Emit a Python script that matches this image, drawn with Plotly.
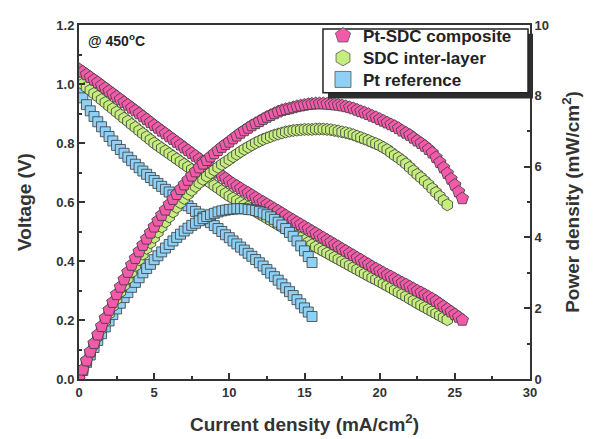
import plotly.graph_objects as go

# ---------------- data ----------------
series_names = ["Pt-SDC composite", "SDC inter-layer", "Pt reference"]

current_pt_sdc = [i * 0.25 for i in range(103)]          # 0 .. 25.5 mA/cm2
voltage_pt_sdc = [1.050, 1.041, 1.032, 1.023, 1.014, 1.005, 0.995, 0.986, 0.976, 0.967,
                  0.957, 0.948, 0.938, 0.929, 0.919, 0.910, 0.900, 0.890, 0.880, 0.870,
                  0.860, 0.851, 0.841, 0.832, 0.822, 0.813, 0.803, 0.794, 0.784, 0.775,
                  0.765, 0.756, 0.746, 0.737, 0.727, 0.718, 0.708, 0.699, 0.689, 0.680,
                  0.670, 0.662, 0.654, 0.646, 0.638, 0.631, 0.623, 0.615, 0.607, 0.600,
                  0.592, 0.585, 0.577, 0.570, 0.562, 0.554, 0.546, 0.539, 0.531, 0.524,
                  0.516, 0.509, 0.501, 0.494, 0.486, 0.479, 0.471, 0.464, 0.456, 0.449,
                  0.441, 0.434, 0.426, 0.419, 0.411, 0.404, 0.396, 0.389, 0.381, 0.374,
                  0.367, 0.360, 0.353, 0.347, 0.340, 0.333, 0.326, 0.320, 0.313, 0.306,
                  0.299, 0.293, 0.286, 0.279, 0.272, 0.264, 0.255, 0.246, 0.237, 0.228,
                  0.219, 0.210, 0.200]
power_pt_sdc = [0.00, 0.26, 0.52, 0.77, 1.01, 1.25, 1.49, 1.72, 1.95, 2.17,
                2.39, 2.60, 2.81, 3.02, 3.22, 3.41, 3.60, 3.78, 3.96, 4.13,
                4.30, 4.47, 4.63, 4.78, 4.93, 5.08, 5.22, 5.36, 5.49, 5.62,
                5.74, 5.86, 5.97, 6.08, 6.18, 6.28, 6.37, 6.46, 6.55, 6.63,
                6.70, 6.79, 6.87, 6.95, 7.02, 7.09, 7.16, 7.22, 7.28, 7.34,
                7.40, 7.45, 7.50, 7.55, 7.59, 7.62, 7.64, 7.67, 7.70, 7.72,
                7.74, 7.76, 7.77, 7.78, 7.78, 7.78, 7.77, 7.76, 7.75, 7.74,
                7.72, 7.70, 7.67, 7.64, 7.60, 7.56, 7.52, 7.48, 7.43, 7.39,
                7.34, 7.29, 7.24, 7.19, 7.14, 7.08, 7.01, 6.95, 6.89, 6.81,
                6.73, 6.66, 6.58, 6.49, 6.39, 6.26, 6.12, 5.97, 5.81, 5.65,
                5.48, 5.29, 5.10]

current_sdc = [i * 0.25 for i in range(99)]              # 0 .. 24.5 mA/cm2
voltage_sdc = [1.010, 1.000, 0.989, 0.979, 0.968, 0.958, 0.947, 0.937, 0.926, 0.916,
               0.905, 0.895, 0.884, 0.874, 0.863, 0.853, 0.842, 0.832, 0.821, 0.811,
               0.800, 0.791, 0.782, 0.773, 0.764, 0.755, 0.746, 0.737, 0.728, 0.719,
               0.710, 0.701, 0.692, 0.683, 0.674, 0.665, 0.656, 0.647, 0.638, 0.629,
               0.620, 0.613, 0.605, 0.598, 0.590, 0.583, 0.575, 0.568, 0.560, 0.553,
               0.545, 0.538, 0.530, 0.523, 0.515, 0.508, 0.500, 0.493, 0.485, 0.478,
               0.470, 0.463, 0.455, 0.448, 0.441, 0.434, 0.427, 0.420, 0.413, 0.406,
               0.399, 0.392, 0.385, 0.378, 0.371, 0.364, 0.357, 0.350, 0.343, 0.337,
               0.330, 0.323, 0.316, 0.309, 0.301, 0.294, 0.287, 0.280, 0.272, 0.265,
               0.257, 0.250, 0.243, 0.236, 0.229, 0.222, 0.215, 0.208, 0.201]
power_sdc = [0.00, 0.25, 0.49, 0.73, 0.97, 1.20, 1.42, 1.64, 1.85, 2.06,
             2.26, 2.46, 2.65, 2.84, 3.02, 3.20, 3.37, 3.53, 3.69, 3.85,
             4.00, 4.15, 4.30, 4.44, 4.58, 4.72, 4.85, 4.98, 5.10, 5.22,
             5.33, 5.44, 5.54, 5.64, 5.73, 5.82, 5.90, 5.98, 6.06, 6.13,
             6.20, 6.28, 6.35, 6.42, 6.49, 6.55, 6.61, 6.67, 6.72, 6.77,
             6.81, 6.85, 6.89, 6.92, 6.95, 6.98, 7.00, 7.02, 7.03, 7.04,
             7.05, 7.05, 7.05, 7.06, 7.06, 7.06, 7.05, 7.04, 7.02, 7.00,
             6.98, 6.96, 6.93, 6.90, 6.86, 6.82, 6.78, 6.74, 6.69, 6.65,
             6.60, 6.54, 6.48, 6.40, 6.32, 6.25, 6.17, 6.08, 5.98, 5.88,
             5.78, 5.69, 5.59, 5.49, 5.38, 5.27, 5.16, 5.04, 4.92]

current_pt = [i * 0.25 for i in range(63)]               # 0 .. 15.5 mA/cm2
voltage_pt = [0.980, 0.953, 0.930, 0.909, 0.890, 0.872, 0.855, 0.838, 0.822, 0.807,
              0.792, 0.778, 0.765, 0.752, 0.740, 0.728, 0.716, 0.705, 0.694, 0.683,
              0.673, 0.663, 0.653, 0.643, 0.634, 0.624, 0.615, 0.606, 0.597, 0.587,
              0.578, 0.568, 0.559, 0.549, 0.540, 0.530, 0.520, 0.510, 0.500, 0.489,
              0.479, 0.468, 0.458, 0.447, 0.437, 0.426, 0.416, 0.405, 0.394, 0.383,
              0.371, 0.359, 0.347, 0.335, 0.322, 0.309, 0.296, 0.283, 0.269, 0.255,
              0.241, 0.227, 0.212]
power_pt = [0.00, 0.24, 0.47, 0.68, 0.89, 1.09, 1.28, 1.47, 1.64, 1.82,
            1.98, 2.14, 2.30, 2.44, 2.59, 2.73, 2.86, 3.00, 3.12, 3.24,
            3.37, 3.48, 3.59, 3.70, 3.80, 3.90, 4.00, 4.09, 4.18, 4.26,
            4.34, 4.40, 4.47, 4.53, 4.59, 4.64, 4.68, 4.72, 4.75, 4.77,
            4.79, 4.80, 4.81, 4.81, 4.81, 4.79, 4.78, 4.76, 4.73, 4.69,
            4.64, 4.58, 4.51, 4.43, 4.35, 4.25, 4.14, 4.03, 3.90, 3.76,
            3.62, 3.46, 3.29]

# ---------------- styles ----------------
FONT = "Liberation Sans, Arial, sans-serif"
pink, green, blue = "#F45AAA", "#C6EE7E", "#8FD0F5"
edge = "#3a3a3a"
axc = "#333333"

fig = go.Figure()

def add_series(x, v, p, name, color, symbol, size, legend_id):
    mk = dict(symbol=symbol, size=size, color=color, line=dict(color=edge, width=0.8))
    fig.add_trace(go.Scatter(x=x, y=v, mode="markers", name=name, marker=mk,
                             showlegend=False, yaxis="y"))
    fig.add_trace(go.Scatter(x=x, y=p, mode="markers", name=name, marker=mk,
                             showlegend=False, yaxis="y2"))
    # legend entry (no data) with a larger symbol, one legend per row
    fig.add_trace(go.Scatter(x=[None], y=[None], mode="markers", name=name,
                             marker=dict(symbol=symbol, size=16, color=color,
                                         line=dict(color="#555555", width=0.8)),
                             showlegend=True, legend=legend_id))

add_series(current_pt, voltage_pt, power_pt, series_names[2], blue, "square", 10, "legend3")
add_series(current_sdc, voltage_sdc, power_sdc, series_names[1], green, "hexagon", 12, "legend2")
add_series(current_pt_sdc, voltage_pt_sdc, power_pt_sdc, series_names[0], pink, "pentagon", 13, "legend")

axis_common = dict(showline=True, linecolor=axc, linewidth=2,
                   ticks="inside", ticklen=6, tickwidth=2, tickcolor=axc,
                   showgrid=False, zeroline=False, automargin=False,
                   tickfont=dict(family=FONT, size=13, color=axc, weight="bold"))
title_font = dict(family=FONT, size=19, color=axc, weight="bold")

legend_common = dict(x=0.541, xanchor="left", yanchor="middle",
                     bgcolor="rgba(0,0,0,0)", borderwidth=0,
                     font=dict(family=FONT, size=17, color="#222222", weight="bold"),
                     itemsizing="trace")

# page body has an 8px default margin -> figure placed at (8, 8)
fig.update_layout(
    width=588, height=431,
    margin=dict(l=71, r=66, t=10, b=60),
    paper_bgcolor="white", plot_bgcolor="white",
    showlegend=True,
    legend=dict(y=0.969, **legend_common),
    legend2=dict(y=0.906, **legend_common),
    legend3=dict(y=0.845, **legend_common),
    xaxis=dict(range=[0, 30], dtick=5, mirror=True,
               minor=dict(dtick=2.5, ticks="inside", ticklen=3, tickwidth=2, tickcolor=axc),
               title=dict(text="Current density (mA/cm<sup>2</sup>)", standoff=19, font=title_font),
               **axis_common),
    yaxis=dict(range=[0, 1.2], dtick=0.2, tickformat=".1f",
               minor=dict(dtick=0.1, ticks="inside", ticklen=3, tickwidth=2, tickcolor=axc),
               title=dict(text="Voltage (V)", standoff=20, font=title_font),
               **axis_common),
    yaxis2=dict(range=[0, 10], dtick=2, overlaying="y", side="right",
                minor=dict(dtick=1, ticks="inside", ticklen=3, tickwidth=2, tickcolor=axc),
                title=dict(text="Power density (mW/cm<sup>2</sup>)", standoff=18, font=title_font),
                **axis_common),
    annotations=[dict(text="@ 450<sup>o</sup>C", x=0.016, y=0.958, xref="paper", yref="paper",
                      xanchor="left", yanchor="middle", showarrow=False,
                      font=dict(family=FONT, size=14, color="#222222", weight="bold"))],
    shapes=[
        # legend shadow
        dict(type="rect", xref="paper", yref="paper",
             x0=0.552, x1=1.0067, y0=0.7922, y1=0.9751,
             fillcolor="#2e2e2e", line=dict(width=0), layer="above"),
        # legend box
        dict(type="rect", xref="paper", yref="paper",
             x0=0.541, x1=0.9956, y0=0.8089, y1=0.9889,
             fillcolor="white", line=dict(color="#222222", width=1.5), layer="above"),
    ],
)

fig.write_html("out.html")
